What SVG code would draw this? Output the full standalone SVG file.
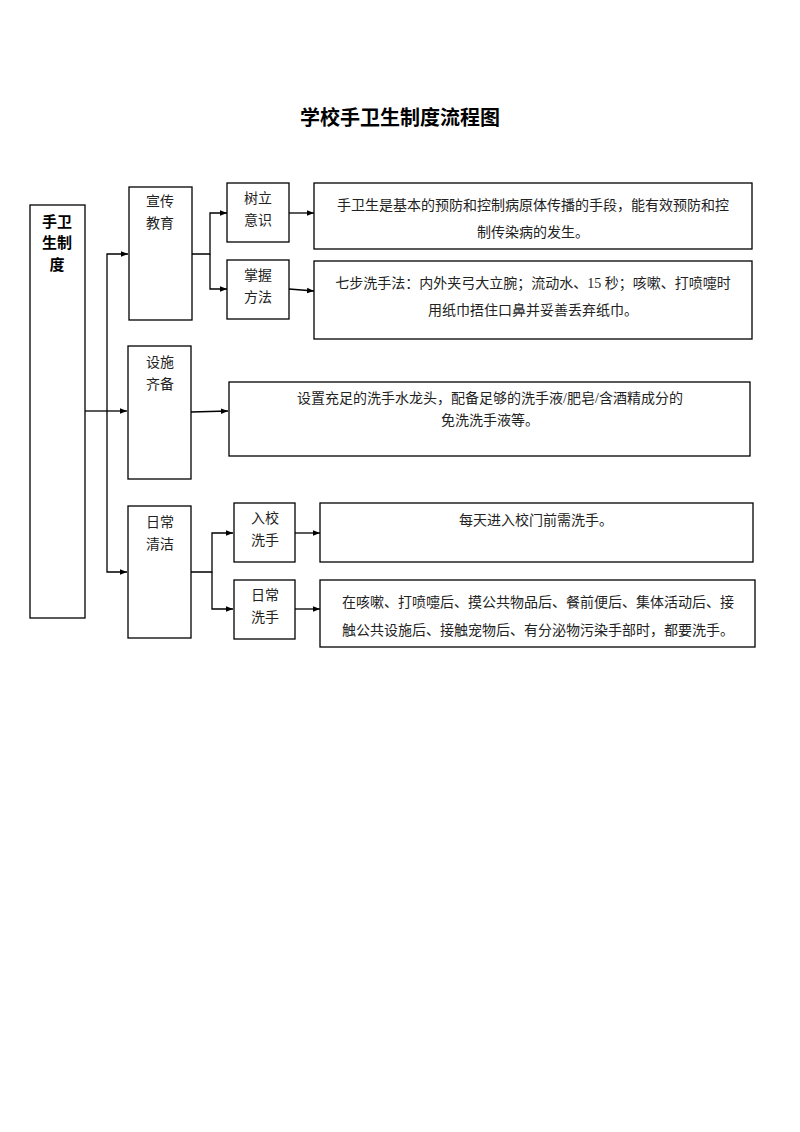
<svg xmlns="http://www.w3.org/2000/svg" width="800" height="1132" viewBox="0 0 800 1132">
<defs>
<style>
rect{fill:#fff;stroke:#000;stroke-width:1.3}
text{font-family:"Liberation Serif","Noto Sans CJK SC",serif;font-size:14px;fill:#222;text-anchor:middle}
.b{font-family:"Noto Sans CJK SC",sans-serif;font-weight:bold;font-size:15px;fill:#000}
.t{font-family:"Noto Sans CJK SC",sans-serif;font-weight:bold;font-size:20px;fill:#000}
#c path{fill:none;stroke:#000;stroke-width:1.3}
</style>
<marker id="a" viewBox="0 0 10 10" refX="10" refY="5" markerWidth="7" markerHeight="7" markerUnits="userSpaceOnUse" orient="auto"><path d="M0,1L10,5L0,9z" fill="#000"/></marker>
</defs>
<rect width="800" height="1132" style="stroke:none"/>
<text class="t" x="400" y="125">学校手卫生制度流程图</text>
<g id="c">
<path d="M85,411H107"/>
<path d="M107,411V254H128" marker-end="url(#a)"/>
<path d="M107,411H127" marker-end="url(#a)"/>
<path d="M107,411V572H127" marker-end="url(#a)"/>
<path d="M192,254H210V213H227" marker-end="url(#a)"/>
<path d="M210,254V289H227" marker-end="url(#a)"/>
<path d="M289,213H314" marker-end="url(#a)"/>
<path d="M289,289L314,291" marker-end="url(#a)"/>
<path d="M191,412L228,411" marker-end="url(#a)"/>
<path d="M191,572H212V533H233" marker-end="url(#a)"/>
<path d="M212,572V609H233" marker-end="url(#a)"/>
<path d="M295,533H320" marker-end="url(#a)"/>
<path d="M295,609H320" marker-end="url(#a)"/>
</g>
<g id="root"><rect x="30" y="205" width="55" height="413"/><text class="b" x="57" y="227">手卫</text><text class="b" x="57" y="248">生制</text><text class="b" x="57" y="270">度</text></g>
<g id="n1"><rect x="129" y="187" width="63" height="133"/><text x="160" y="206">宣传</text><text x="160" y="228">教育</text></g>
<g id="n2"><rect x="128" y="346" width="63" height="133"/><text x="160" y="367">设施</text><text x="160" y="389">齐备</text></g>
<g id="n3"><rect x="128" y="506" width="63" height="132"/><text x="160" y="527">日常</text><text x="160" y="549">清洁</text></g>
<g id="n4"><rect x="227" y="183" width="62" height="59"/><text x="258" y="203">树立</text><text x="258" y="225">意识</text></g>
<g id="n5"><rect x="227" y="260" width="62" height="59"/><text x="258" y="280">掌握</text><text x="258" y="302">方法</text></g>
<g id="n6"><rect x="234" y="503" width="61" height="59"/><text x="265" y="523">入校</text><text x="265" y="545">洗手</text></g>
<g id="n7"><rect x="234" y="580" width="61" height="59"/><text x="265" y="600">日常</text><text x="265" y="622">洗手</text></g>
<g id="d1"><rect x="314" y="183" width="438" height="66"/><text x="533" y="210">手卫生是基本的预防和控制病原体传播的手段，能有效预防和控</text><text x="533" y="237">制传染病的发生。</text></g>
<g id="d2"><rect x="314" y="261" width="438" height="78"/><text x="533" y="288">七步洗手法：内外夹弓大立腕；流动水、15 秒；咳嗽、打喷嚏时</text><text x="533" y="315">用纸巾捂住口鼻并妥善丢弃纸巾。</text></g>
<g id="d3"><rect x="229" y="382" width="521" height="74"/><text x="490" y="403">设置充足的洗手水龙头，配备足够的洗手液/肥皂/含酒精成分的</text><text x="490" y="425">免洗洗手液等。</text></g>
<g id="d4"><rect x="320" y="503" width="433" height="59"/><text x="536" y="525">每天进入校门前需洗手。</text></g>
<g id="d5"><rect x="320" y="580" width="435" height="67"/><text x="538" y="607">在咳嗽、打喷嚏后、摸公共物品后、餐前便后、集体活动后、接</text><text x="538" y="635">触公共设施后、接触宠物后、有分泌物污染手部时，都要洗手。</text></g>
</svg>
